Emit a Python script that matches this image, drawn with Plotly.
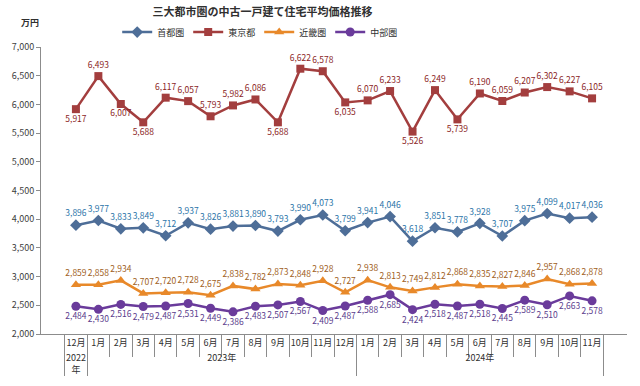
import plotly.graph_objects as go

years = ["2022<br>年"] + ["2023年"] * 12 + ["2024年"] * 11
months = ["12月\u200b"] + [f"{m}月" for m in range(1, 13)] + [f"{m}月" for m in range(1, 12)]

shutoken = [3896, 3977, 3833, 3849, 3712, 3937, 3826, 3881, 3890, 3793, 3990, 4073,
            3799, 3941, 4046, 3618, 3851, 3778, 3928, 3707, 3975, 4099, 4017, 4036]
tokyo = [5917, 6493, 6007, 5688, 6117, 6057, 5793, 5982, 6086, 5688, 6622, 6578,
         6035, 6070, 6233, 5526, 6249, 5739, 6190, 6059, 6207, 6302, 6227, 6105]
kinki = [2859, 2858, 2934, 2707, 2720, 2728, 2675, 2838, 2782, 2873, 2848, 2928,
         2727, 2938, 2813, 2749, 2812, 2868, 2835, 2827, 2846, 2957, 2868, 2878]
chubu = [2484, 2430, 2516, 2479, 2487, 2531, 2449, 2386, 2483, 2507, 2567, 2409,
         2487, 2588, 2685, 2424, 2518, 2487, 2518, 2445, 2589, 2510, 2663, 2578]

tokyo_below = {0, 2, 3, 9, 12, 15, 17}
tokyo_pos = ["bottom center" if i in tokyo_below else "top center" for i in range(len(tokyo))]

FONT = "Noto Sans CJK JP"
x = [years, months]

def fmt(v):
    return [f"{a:,}" for a in v]

series = [
    ("首都圏", shutoken, "#4E6E98", "#2B74A8", "diamond", 9, "top center"),
    ("東京都", tokyo, "#A33E3E", "#8B1E1E", "square", 8, tokyo_pos),
    ("近畿圏", kinki, "#E8892A", "#A0601C", "triangle-up", 9, "top center"),
    ("中部圏", chubu, "#6A3B9B", "#5A3C8C", "circle", 9, "bottom center"),
]

fig = go.Figure()
for name, vals, col, tcol, sym, ms, pos in series:
    fig.add_trace(go.Scatter(
        x=x, y=vals, name=name, mode="lines+markers+text",
        line=dict(color=col, width=2.5),
        marker=dict(symbol=sym, size=ms, color=col),
        text=fmt(vals), textposition=pos,
        textfont=dict(family=FONT, size=8.5, color=tcol),
        cliponaxis=False,
    ))

fig.update_layout(
    width=640, height=386,
    margin=dict(l=41, r=13, t=47, b=52),
    paper_bgcolor="white", plot_bgcolor="white",
    font=dict(family=FONT, size=9, color="#404040"),
    title=dict(text="<b>三大都市圏の中古一戸建て住宅平均価格推移</b>",
               x=0.41, xanchor="center", y=0.969, yanchor="middle",
               font=dict(family=FONT, size=11, color="#303030")),
    legend=dict(orientation="h", xref="container", yref="container",
                x=0.405, xanchor="center", y=0.917, yanchor="middle",
                font=dict(family=FONT, size=9, color="#303030"),
                itemwidth=30, entrywidth=26, entrywidthmode="pixels",
                tracegroupgap=0, bgcolor="rgba(0,0,0,0)"),
    showlegend=True,
)
fig.update_yaxes(range=[2000, 7000], dtick=500, tickformat=",d", automargin=False,
                 showgrid=False, showline=True, linecolor="#8c8c8c", linewidth=1,
                 ticks="outside", ticklen=4, tickcolor="#8c8c8c",
                 tickfont=dict(family=FONT, size=9, color="#404040"), zeroline=False)
fig.update_xaxes(showgrid=False, showline=True, linecolor="#8c8c8c", linewidth=1,
                 automargin=False, tickangle=0,
                 ticks="outside", ticklen=22, tickcolor="#8c8c8c",
                 showdividers=True, dividercolor="#8c8c8c", dividerwidth=1,
                 tickfont=dict(family=FONT, size=9, color="#303030"))
fig.add_annotation(text="<b>万円</b>", xref="paper", yref="paper",
                   x=-0.038, y=1.116, showarrow=False,
                   font=dict(family=FONT, size=9, color="#303030"))

fig.write_html("out.html", config={"displayModeBar": False},
               post_script="document.body.style.margin='0';")
